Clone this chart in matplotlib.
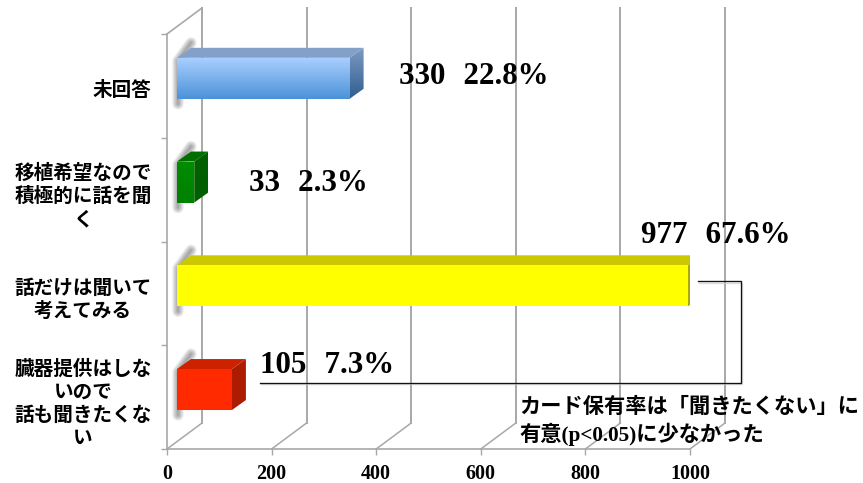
#!/usr/bin/env python3
# -*- coding: utf-8 -*-
"""
Pseudo-3D horizontal bar chart of survey answers, with a bracket note.
"""

import numpy as np
import matplotlib
matplotlib.use("Agg")
import matplotlib.pyplot as plt
from matplotlib.colors import LinearSegmentedColormap
from matplotlib.patches import Polygon

FONT = ["Liberation Serif", "Noto Sans CJK JP"]
plt.rcParams["font.family"] = FONT
plt.rcParams["font.weight"] = "bold"

# ----------- DATA -----------
categories = ["臓器提供はしな\nいので\n話も聞きたくな\nい",
              "話だけは聞いて\n考えてみる",
              "移植希望なので\n積極的に話を聞\nく",
              "未回答"]
counts = [105, 977, 33, 330]
percents = [7.3, 67.6, 2.3, 22.8]
x_ticks = [0, 200, 400, 600, 800, 1000]
note_text = "カード保有率は「聞きたくない」に\n有意(p<0.05)に少なかった"

# front face (top, bottom), top face, side face (top, bottom)
bar_colors = [("#FF2A00", "#FF2A00", "#CC2200", "#AD1C00", "#AD1C00"),
              ("#FFFF00", "#FFFF00", "#CCC800", "#AFA800", "#AFA800"),
              ("#008C00", "#008000", "#006F00", "#005F00", "#005F00"),
              ("#A8CEFF", "#4C92D9", "#83A1C8", "#7C9AC2", "#2F5E90")]

# ----------- LAYOUT -----------
W, H = 863, 483
LEFT, BOTTOM, RIGHT, TOP = 167, 449, 690, 34
px_x = 1000 / (RIGHT - LEFT)      # value units per pixel
px_y = 4 / (BOTTOM - TOP)         # category units per pixel

WALL_DX, WALL_DY = 35 * px_x, 26 * px_y
BAR_START = 10 * px_x
BAR_DX, BAR_DY = 14 * px_x, 10 * px_y
BAR_H = 41 * px_y
BAR_Y = 0.573

GRID = "#A8A8A8"


def gradient_poly(ax, pts, c_top, c_bottom, zorder):
    """Fill a polygon with a vertical two-colour gradient."""
    pts = np.asarray(pts)
    patch = Polygon(pts, closed=True, fc="none", ec="none", zorder=zorder)
    ax.add_patch(patch)
    cmap = LinearSegmentedColormap.from_list("g", [c_top, c_bottom])
    im = ax.imshow(np.linspace(0, 1, 64)[:, None], cmap=cmap, aspect="auto",
                   extent=(pts[:, 0].min(), pts[:, 0].max(), pts[:, 1].min(), pts[:, 1].max()),
                   origin="upper", zorder=zorder, interpolation="bilinear")
    im.set_clip_path(patch)
    return im


def draw_bar(ax, y, value, colors):
    x0 = BAR_START
    x1 = BAR_START + value
    y0, y1 = y - BAR_H / 2, y + BAR_H / 2
    front_top, front_bot, top_c, side_top, side_bot = colors

    # soft shadow along the bar's left edge and up towards the back wall
    sx = [x0 + 1 * px_x, x0 + 1 * px_x, x0 + 14 * px_x]
    sy = [y0 - 5 * px_y, y1 - 3 * px_y, y1 + 15 * px_y]
    for lw in np.linspace(8.5, 1, 9):
        ax.plot(sx, sy, color="black", lw=lw, alpha=0.045, zorder=3,
                solid_joinstyle="round", solid_capstyle="round")

    ax.add_patch(Polygon([(x0, y1), (x1, y1), (x1 + BAR_DX, y1 + BAR_DY), (x0 + BAR_DX, y1 + BAR_DY)],
                         closed=True, fc=top_c, ec="none", zorder=4))
    gradient_poly(ax, [(x1, y0), (x1 + BAR_DX, y0 + BAR_DY), (x1 + BAR_DX, y1 + BAR_DY), (x1, y1)],
                  side_top, side_bot, 4)
    gradient_poly(ax, [(x0, y0), (x1, y0), (x1, y1), (x0, y1)], front_top, front_bot, 5)


fig = plt.figure(figsize=(W / 100, H / 100), dpi=100)
ax = fig.add_axes([LEFT / W, 1 - BOTTOM / H, (RIGHT - LEFT) / W, (BOTTOM - TOP) / H])

# ----------- AXES AND WALLS -----------
for side in ("top", "right"):
    ax.spines[side].set_visible(False)
for side in ("left", "bottom"):
    ax.spines[side].set_color(GRID)
    ax.spines[side].set_linewidth(1.2)

ax.set_xticks(x_ticks)
ax.tick_params(axis="x", length=4, width=1, color=GRID, labelsize=14.5, pad=7)
ax.set_yticks(range(5))
ax.set_yticklabels([])
ax.tick_params(axis="y", which="major", length=4, width=1, color=GRID)
ax.set_yticks(np.arange(4) + 0.47, minor=True)
ax.set_yticklabels(categories, minor=True, fontsize=14.1, linespacing=1.22)
ax.tick_params(axis="y", which="minor", length=0, pad=11)
for t in ax.get_yticklabels(minor=True):
    t.set_multialignment("center")

for v in x_ticks:
    ax.plot([v, v + WALL_DX], [0, WALL_DY], color=GRID, lw=1.1, clip_on=False, zorder=1)
    ax.plot([v + WALL_DX] * 2, [WALL_DY, 4 + WALL_DY], color=GRID, lw=1.4, clip_on=False, zorder=1)
ax.plot([0, WALL_DX], [4, 4 + WALL_DY], color=GRID, lw=1.2, clip_on=False, zorder=1)

# ----------- BARS AND LABELS -----------
for i, (value, colors) in enumerate(zip(counts, bar_colors)):
    draw_bar(ax, i + BAR_Y, value, colors)

label_x = [178, 906, 157, 443]
label_y = [0.805, 2.06, 2.56, 3.59]
for i, (c, p) in enumerate(zip(counts, percents)):
    ax.text(label_x[i], label_y[i], f"{c}\u2002\u200a{p}%", fontsize=22.3, color="black",
            va="center", ha="left", zorder=7)

# ----------- BRACKET AND NOTE -----------
bracket_x = [1015, 1097, 1097, 178]
bracket_y = [1.615, 1.615, 0.635, 0.635]
ax.plot([x + 2 for x in bracket_x], [y - 0.012 for y in bracket_y], color="#CCCCCC", lw=1.0,
        clip_on=False, zorder=5.5, alpha=0.7)
ax.plot(bracket_x, bracket_y, color="#111111", lw=0.95, clip_on=False, zorder=6)

ax.text(674, 0.26, note_text, fontsize=15.3, color="black", va="center", ha="left",
        linespacing=1.3, zorder=7)

ax.set_xlim(0, 1000)
ax.set_ylim(0, 4)
ax.patch.set_alpha(0)

fig.savefig("out.png", dpi=100)
